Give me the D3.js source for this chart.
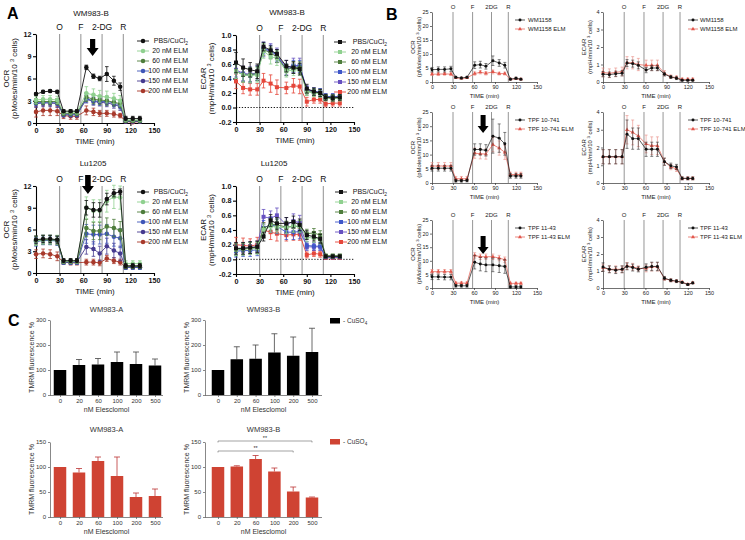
<!DOCTYPE html>
<html><head><meta charset="utf-8">
<script src="https://cdn.jsdelivr.net/npm/d3@7"></script>
<style>body{margin:0;background:#fff}svg{display:block;font-family:"Liberation Sans",Arial,Helvetica,sans-serif}</style>
</head><body><svg id="c" width="745" height="540"></svg>
<script>
// ---------------- DATA ----------------
const xTicks = [0, 30, 60, 90, 120, 150];
const injectionsA = [30, 57, 84, 111];
const injLabelsA = ["O", "F", "2-DG", "R"];
const injectionsB = [30, 58, 85, 109];
const injLabelsB = ["O", "F", "2DG", "R"];
const timesA = [0, 9, 18, 27, 35, 44, 52, 64, 73, 81, 90, 99, 107, 114, 123, 132];
const timesB = [0, 9, 18, 27, 34, 42, 50, 61, 69, 77, 87, 96, 104, 112, 120, 127];
const seriesNamesA = ["PBS/CuCl2", "20 nM ELM", "60 nM ELM", "100 nM ELM", "150 nM ELM", "200 nM ELM"];

// A: WM983-B OCR
const ocrWM_pbs  = [3.9, 4.2, 4.3, 4.2, 1.6, 1.6, 1.6, 7.5, 6.3, 6.0, 6.6, 5.7, 4.9, 0.6, 0.6, 0.6];
const ocrWM_20   = [3.1, 3.2, 3.2, 3.1, 1.5, 1.5, 1.5, 4.0, 3.8, 3.6, 3.5, 3.3, 3.0, 0.4, 0.4, 0.4];
const ocrWM_60   = [2.9, 2.9, 2.9, 2.9, 1.3, 1.3, 1.3, 3.5, 3.2, 3.1, 3.0, 2.8, 2.6, 0.3, 0.3, 0.3];
const ocrWM_100  = [2.7, 2.8, 2.8, 2.8, 1.2, 1.2, 1.2, 3.3, 3.0, 2.9, 2.9, 2.7, 2.4, 0.3, 0.3, 0.3];
const ocrWM_150  = [2.6, 2.7, 2.7, 2.6, 1.1, 1.1, 1.1, 3.2, 2.9, 2.8, 2.7, 2.5, 2.2, 0.2, 0.2, 0.2];
const ocrWM_200  = [1.5, 1.7, 1.7, 1.6, 1.0, 0.9, 0.9, 1.7, 1.5, 1.3, 1.3, 1.2, 1.0, 0.2, 0.1, 0.2];
const ocrWM_pbsE = [0.2, 0.2, 0.2, 0.2, 0.2, 0.2, 0.2, 0.3, 0.3, 0.3, 1.0, 0.6, 0.5, 0.3, 0.3, 0.3];
const ocrWM_20E  = [0.5, 0.5, 0.5, 0.5, 0.3, 0.3, 0.3, 0.9, 0.8, 0.8, 0.8, 0.7, 0.7, 0.2, 0.2, 0.2];
const ocrWM_60E  = [0.4, 0.4, 0.4, 0.4, 0.3, 0.3, 0.3, 0.6, 0.6, 0.6, 0.6, 0.5, 0.5, 0.2, 0.2, 0.2];
const ocrWM_100E = [0.4, 0.4, 0.4, 0.4, 0.3, 0.3, 0.3, 0.5, 0.5, 0.5, 0.5, 0.5, 0.5, 0.2, 0.2, 0.2];
const ocrWM_150E = [0.5, 0.5, 0.5, 0.5, 0.3, 0.3, 0.3, 0.5, 0.5, 0.5, 0.5, 0.5, 0.5, 0.2, 0.2, 0.2];
const ocrWM_200E = [0.7, 0.7, 0.7, 0.6, 0.4, 0.4, 0.4, 0.6, 0.5, 0.4, 0.4, 0.4, 0.3, 0.1, 0.1, 0.1];

// A: WM983-B ECAR
const ecarWM_pbs  = [0.62, 0.55, 0.52, 0.50, 0.84, 0.79, 0.74, 0.57, 0.55, 0.53, 0.26, 0.22, 0.20, 0.14, 0.13, 0.14];
const ecarWM_20   = [0.50, 0.45, 0.44, 0.45, 0.78, 0.70, 0.68, 0.50, 0.52, 0.52, 0.22, 0.20, 0.19, 0.13, 0.12, 0.13];
const ecarWM_60   = [0.50, 0.45, 0.45, 0.47, 0.80, 0.75, 0.70, 0.52, 0.55, 0.55, 0.22, 0.21, 0.20, 0.14, 0.14, 0.14];
const ecarWM_100  = [0.50, 0.46, 0.44, 0.47, 0.82, 0.78, 0.72, 0.52, 0.57, 0.57, 0.24, 0.22, 0.21, 0.15, 0.15, 0.15];
const ecarWM_150  = [0.52, 0.47, 0.46, 0.48, 0.80, 0.78, 0.72, 0.55, 0.58, 0.58, 0.25, 0.22, 0.21, 0.15, 0.15, 0.15];
const ecarWM_200  = [0.36, 0.27, 0.25, 0.25, 0.37, 0.33, 0.28, 0.27, 0.30, 0.29, 0.08, 0.11, 0.11, 0.05, 0.06, 0.06];
const ecarWM_pbsE = [0.14, 0.12, 0.10, 0.10, 0.06, 0.06, 0.06, 0.08, 0.08, 0.08, 0.06, 0.05, 0.05, 0.04, 0.04, 0.04];
const ecarWM_20E  = [0.10, 0.10, 0.10, 0.10, 0.10, 0.10, 0.10, 0.08, 0.08, 0.08, 0.05, 0.05, 0.05, 0.04, 0.04, 0.04];
const ecarWM_60E  = [0.10, 0.10, 0.10, 0.10, 0.08, 0.08, 0.08, 0.08, 0.08, 0.08, 0.05, 0.05, 0.05, 0.04, 0.04, 0.04];
const ecarWM_100E = [0.10, 0.10, 0.10, 0.10, 0.08, 0.08, 0.08, 0.08, 0.08, 0.08, 0.05, 0.05, 0.05, 0.04, 0.04, 0.04];
const ecarWM_150E = [0.10, 0.10, 0.10, 0.10, 0.10, 0.10, 0.10, 0.10, 0.10, 0.10, 0.05, 0.05, 0.05, 0.04, 0.04, 0.04];
const ecarWM_200E = [0.10, 0.08, 0.08, 0.08, 0.10, 0.12, 0.10, 0.08, 0.10, 0.10, 0.06, 0.05, 0.05, 0.04, 0.04, 0.04];

// A: Lu1205 OCR
const ocrLu_pbs  = [4.6, 4.7, 4.7, 4.6, 1.7, 1.7, 1.7, 9.0, 8.7, 8.7, 10.2, 11.0, 11.2, 1.0, 1.0, 1.0];
const ocrLu_20   = [4.4, 4.6, 4.6, 4.6, 1.6, 1.6, 1.6, 9.0, 8.6, 8.6, 9.9, 10.5, 10.4, 1.3, 1.3, 1.3];
const ocrLu_60   = [4.5, 4.6, 4.6, 4.5, 1.6, 1.6, 1.6, 6.2, 5.8, 5.8, 6.4, 6.2, 5.9, 0.9, 0.9, 0.9];
const ocrLu_100  = [4.3, 4.5, 4.5, 4.4, 1.5, 1.5, 1.5, 5.4, 5.3, 5.3, 5.4, 5.0, 4.8, 0.8, 0.8, 0.8];
const ocrLu_150  = [4.4, 4.6, 4.6, 4.5, 1.5, 1.5, 1.5, 3.6, 3.3, 2.7, 3.7, 3.1, 2.7, 0.8, 0.8, 0.8];
const ocrLu_200  = [2.6, 2.7, 2.6, 2.3, 1.5, 1.4, 1.4, 1.5, 1.5, 1.4, 2.0, 1.7, 1.5, 0.8, 0.8, 0.8];
const ocrLu_pbsE = [0.5, 0.5, 0.5, 0.5, 0.3, 0.3, 0.3, 1.0, 1.0, 1.0, 0.8, 0.5, 0.4, 0.3, 0.3, 0.3];
const ocrLu_20E  = [0.6, 0.6, 0.6, 0.6, 0.3, 0.3, 0.3, 1.5, 1.5, 1.5, 1.5, 1.6, 1.6, 0.4, 0.4, 0.4];
const ocrLu_60E  = [0.6, 0.6, 0.6, 0.6, 0.3, 0.3, 0.3, 1.2, 1.2, 1.2, 1.2, 1.2, 1.2, 0.3, 0.3, 0.3];
const ocrLu_100E = [0.6, 0.6, 0.6, 0.6, 0.3, 0.3, 0.3, 1.3, 1.3, 1.3, 1.3, 1.3, 1.3, 0.3, 0.3, 0.3];
const ocrLu_150E = [0.6, 0.6, 0.6, 0.6, 0.3, 0.3, 0.3, 1.0, 1.0, 1.0, 1.1, 1.0, 1.0, 0.3, 0.3, 0.3];
const ocrLu_200E = [0.6, 0.6, 0.6, 0.6, 0.3, 0.3, 0.3, 0.4, 0.4, 0.4, 0.4, 0.4, 0.4, 0.2, 0.2, 0.2];

// A: Lu1205 ECAR
const ecarLu_pbs  = [0.15, 0.15, 0.16, 0.17, 0.31, 0.53, 0.49, 0.49, 0.51, 0.47, 0.33, 0.31, 0.28, 0.04, 0.04, 0.04];
const ecarLu_20   = [0.13, 0.14, 0.15, 0.15, 0.40, 0.45, 0.44, 0.43, 0.45, 0.45, 0.30, 0.29, 0.27, 0.04, 0.04, 0.04];
const ecarLu_60   = [0.13, 0.14, 0.15, 0.16, 0.42, 0.48, 0.47, 0.44, 0.45, 0.45, 0.35, 0.36, 0.33, 0.05, 0.05, 0.05];
const ecarLu_100  = [0.11, 0.12, 0.12, 0.13, 0.43, 0.47, 0.45, 0.37, 0.37, 0.38, 0.19, 0.18, 0.18, 0.03, 0.03, 0.03];
const ecarLu_150  = [0.14, 0.15, 0.16, 0.17, 0.58, 0.56, 0.60, 0.47, 0.52, 0.50, 0.17, 0.17, 0.17, 0.03, 0.03, 0.03];
const ecarLu_200  = [0.20, 0.19, 0.18, 0.20, 0.40, 0.37, 0.35, 0.33, 0.34, 0.34, 0.06, 0.08, 0.07, 0.02, 0.02, 0.02];
const ecarLu_pbsE = [0.08, 0.08, 0.08, 0.08, 0.06, 0.08, 0.08, 0.08, 0.08, 0.08, 0.06, 0.06, 0.06, 0.02, 0.02, 0.02];
const ecarLu_20E  = [0.08, 0.08, 0.08, 0.08, 0.08, 0.08, 0.08, 0.08, 0.08, 0.08, 0.06, 0.06, 0.06, 0.02, 0.02, 0.02];
const ecarLu_60E  = [0.08, 0.08, 0.08, 0.08, 0.08, 0.08, 0.08, 0.08, 0.08, 0.08, 0.06, 0.06, 0.06, 0.02, 0.02, 0.02];
const ecarLu_100E = [0.08, 0.08, 0.08, 0.08, 0.10, 0.10, 0.10, 0.10, 0.10, 0.10, 0.05, 0.05, 0.05, 0.02, 0.02, 0.02];
const ecarLu_150E = [0.08, 0.08, 0.08, 0.08, 0.10, 0.10, 0.10, 0.10, 0.10, 0.10, 0.05, 0.05, 0.05, 0.02, 0.02, 0.02];
const ecarLu_200E = [0.10, 0.10, 0.10, 0.10, 0.10, 0.10, 0.10, 0.08, 0.08, 0.08, 0.04, 0.04, 0.04, 0.02, 0.02, 0.02];

// B
const ocr1158     = [4.4, 4.5, 4.5, 4.7, 1.7, 1.4, 1.7, 6.0, 6.2, 5.6, 7.6, 6.8, 6.0, 1.0, 1.3, 1.0];
const ocr1158E    = [0.8, 0.9, 0.9, 0.9, 0.3, 0.3, 0.3, 1.2, 1.2, 1.0, 1.7, 1.2, 1.0, 0.3, 0.4, 0.3];
const ocr1158elm  = [2.8, 2.8, 2.9, 2.8, 1.5, 1.3, 1.5, 3.0, 3.5, 3.1, 3.6, 3.0, 3.0, 1.0, 1.2, 1.0];
const ocr1158elmE = [0.5, 0.5, 0.5, 0.5, 0.2, 0.2, 0.2, 0.6, 0.6, 0.6, 0.7, 0.5, 0.5, 0.3, 0.3, 0.3];
const ecar1158     = [0.45, 0.42, 0.47, 0.50, 1.08, 1.05, 0.95, 0.68, 0.80, 0.80, 0.45, 0.28, 0.22, 0.10, 0.10, 0.10];
const ecar1158E    = [0.15, 0.15, 0.15, 0.15, 0.20, 0.20, 0.20, 0.15, 0.15, 0.15, 0.10, 0.08, 0.08, 0.05, 0.05, 0.05];
const ecar1158elm  = [0.55, 0.50, 0.55, 0.60, 1.10, 1.10, 1.00, 0.95, 0.95, 0.95, 0.50, 0.30, 0.25, 0.15, 0.15, 0.15];
const ecar1158elmE = [0.25, 0.25, 0.25, 0.25, 0.35, 0.35, 0.35, 0.30, 0.30, 0.30, 0.15, 0.10, 0.10, 0.08, 0.08, 0.08];
const ocr10741     = [5.2, 5.2, 5.2, 5.2, 0.8, 0.8, 0.9, 11.8, 11.8, 11.5, 16.5, 15.8, 13.8, 2.5, 2.5, 2.5];
const ocr10741E    = [1.0, 1.0, 1.0, 1.0, 0.5, 0.5, 0.5, 2.0, 2.0, 2.0, 6.0, 5.0, 4.0, 0.8, 0.8, 0.8];
const ocr10741elm  = [6.0, 6.0, 6.0, 6.0, 1.5, 1.5, 1.5, 10.5, 10.3, 10.2, 13.5, 12.3, 10.8, 3.0, 3.0, 3.0];
const ocr10741elmE = [1.2, 1.2, 1.2, 1.2, 0.8, 0.8, 0.8, 1.8, 1.8, 1.8, 2.5, 2.5, 2.5, 0.8, 0.8, 0.8];
const ecar10741     = [1.48, 1.48, 1.48, 1.48, 2.75, 2.50, 2.50, 1.90, 1.90, 1.90, 1.20, 0.97, 0.90, 0.26, 0.26, 0.26];
const ecar10741E    = [0.40, 0.40, 0.40, 0.40, 0.80, 0.60, 0.60, 0.40, 0.40, 0.40, 0.20, 0.15, 0.15, 0.08, 0.08, 0.08];
const ecar10741elm  = [1.48, 1.48, 1.48, 1.48, 3.00, 2.85, 2.65, 2.20, 2.10, 2.10, 1.20, 0.90, 0.80, 0.26, 0.26, 0.26];
const ecar10741elmE = [0.40, 0.40, 0.40, 0.40, 0.80, 0.70, 0.60, 0.50, 0.50, 0.50, 0.20, 0.15, 0.15, 0.08, 0.08, 0.08];
const ocr1143     = [4.1, 4.1, 4.0, 4.0, 0.8, 0.8, 0.8, 9.5, 8.8, 8.5, 8.5, 8.2, 7.9, 0.4, 0.4, 0.4];
const ocr1143E    = [1.0, 1.0, 1.0, 1.0, 0.5, 0.5, 0.5, 2.5, 2.5, 2.5, 2.5, 2.5, 2.5, 0.5, 0.5, 0.5];
const ocr1143elm  = [6.0, 6.0, 6.0, 6.0, 1.8, 1.8, 1.8, 12.0, 11.5, 11.5, 11.5, 11.0, 10.4, 1.7, 1.7, 1.7];
const ocr1143elmE = [0.8, 0.8, 0.8, 0.8, 0.5, 0.5, 0.5, 1.0, 1.0, 1.0, 1.0, 1.0, 1.0, 0.4, 0.4, 0.4];
const ecar1143     = [1.23, 1.10, 1.05, 1.10, 1.27, 1.20, 1.10, 1.22, 1.27, 1.27, 0.58, 0.45, 0.40, 0.33, 0.20, 0.30];
const ecar1143E    = [0.25, 0.20, 0.20, 0.20, 0.20, 0.20, 0.15, 0.20, 0.25, 0.25, 0.10, 0.08, 0.08, 0.05, 0.05, 0.05];
const ecar1143elm  = [1.20, 1.10, 1.10, 1.10, 1.30, 1.25, 1.15, 1.15, 1.25, 1.25, 0.55, 0.45, 0.40, 0.35, 0.22, 0.30];
const ecar1143elmE = [0.20, 0.20, 0.20, 0.20, 0.20, 0.20, 0.15, 0.20, 0.25, 0.25, 0.10, 0.08, 0.08, 0.05, 0.05, 0.05];

// C
const concs = ["0", "20", "60", "100", "200", "500"];
const tmrmA_noCu  = [100, 120, 122, 132, 124, 118];
const tmrmA_noCuE = [0, 22, 24, 40, 48, 26];
const tmrmB_noCu  = [100, 143, 145, 170, 157, 172];
const tmrmB_noCuE = [0, 50, 55, 75, 75, 95];
const tmrmA_cu    = [100, 89, 112, 82, 40, 42];
const tmrmA_cuE   = [0, 8, 8, 38, 8, 14];
const tmrmB_cu    = [100, 101, 116, 91, 51, 39];
const tmrmB_cuE   = [0, 1.5, 7, 7, 9, 1];

// ---------------- DRAWING ----------------
const svg = d3.select("#c");
const FONT = '"Liberation Sans",Arial,Helvetica,sans-serif';

function rich(t, parts, fs) {
  parts.forEach(p => {
    const s = t.append("tspan").text(p[0]);
    if (p[1] === "sup") { s.attr("font-size", fs * 0.7).attr("dy", -fs * 0.4); }
    else if (p[1] === "sub") { s.attr("font-size", fs * 0.7).attr("dy", fs * 0.25); }
    else if (p[1] === "back") { s.attr("dy", fs * 0.4); }
  });
}

function drawTime(c) {
  const x = d3.scaleLinear().domain([0, 150]).range([c.x0, c.x1]);
  const y = d3.scaleLinear().domain(c.yd).range([c.yb, c.yt]);
  const g = svg.append("g");
  c.inj.forEach((t, i) => {
    g.append("line").attr("x1", x(t)).attr("x2", x(t)).attr("y1", c.yt - c.lineExt).attr("y2", c.yb)
      .attr("stroke", c.lineColor).attr("stroke-width", c.lineW);
    g.append("text").attr("x", x(t)).attr("y", c.yt - c.lblOff).attr("text-anchor", "middle")
      .attr("font-size", c.lblFs).attr("fill", c.txt).text(c.injLabels[i]);
  });
  if (c.yd[0] < 0) {
    g.append("line").attr("x1", x(0)).attr("x2", x(150)).attr("y1", y(0)).attr("y2", y(0))
      .attr("stroke", "#000").attr("stroke-width", 0.9).attr("stroke-dasharray", "1.3,1.6");
  }
  const xa = g.append("g").attr("transform", `translate(0,${c.yb})`)
    .call(d3.axisBottom(x).tickValues(xTicks).tickSize(c.tick).tickPadding(1.5).tickSizeOuter(0));
  const ya = g.append("g").attr("transform", `translate(${c.x0},0)`)
    .call(d3.axisLeft(y).tickValues(c.yticks).tickFormat(c.fmt).tickSize(c.tick).tickPadding(1.5).tickSizeOuter(0));
  [xa, ya].forEach(a => {
    a.selectAll("path,line").attr("stroke", c.axisColor).attr("stroke-width", c.axisW);
    a.selectAll("text").attr("font-size", c.tickFs).attr("font-weight", c.tickWeight)
      .attr("fill", c.txt).attr("font-family", FONT);
  });
  g.append("text").attr("x", (c.x0 + c.x1) / 2).attr("y", c.yb + c.xTitleOff).attr("text-anchor", "middle")
    .attr("font-size", c.titleFs).attr("fill", c.txt).text("TIME (min)");
  const cy = (c.yb + c.yt) / 2;
  g.append("text").attr("transform", `translate(${c.x0 - c.yT1},${cy}) rotate(-90)`).attr("text-anchor", "middle")
    .attr("font-size", c.titleFs).attr("fill", c.txt).text(c.ytitle);
  const t2 = g.append("text").attr("transform", `translate(${c.x0 - c.yT2},${cy}) rotate(-90)`).attr("text-anchor", "middle")
    .attr("font-size", c.titleFs).attr("fill", c.txt);
  rich(t2, [[c.unit + "/min/10 ", ""], ["3", "sup"], [" cells)", "back"]], c.titleFs);
  if (c.title) g.append("text").attr("x", c.titleX).attr("y", c.titleY).attr("text-anchor", "middle")
    .attr("font-size", 8).attr("fill", "#111").text(c.title);
  const order = d3.range(c.series.length).reverse();
  order.forEach(i => {
    const s = c.series[i];
    const col = c.colors[i];
    const ecol = c.ecolors ? c.ecolors[i] : col;
    const pts = s.v.map((v, j) => ({ t: c.times[j], v: v, e: s.e[j] }));
    g.append("path").datum(pts).attr("d", d3.line().x(d => x(d.t)).y(d => y(d.v)))
      .attr("fill", "none").attr("stroke", col).attr("stroke-width", c.lw);
    const eb = g.append("g").attr("stroke", ecol).attr("stroke-width", c.ew);
    pts.forEach(d => {
      eb.append("line").attr("x1", x(d.t)).attr("x2", x(d.t)).attr("y1", y(d.v - d.e)).attr("y2", y(d.v + d.e));
      eb.append("line").attr("x1", x(d.t) - c.cap).attr("x2", x(d.t) + c.cap).attr("y1", y(d.v + d.e)).attr("y2", y(d.v + d.e));
      eb.append("line").attr("x1", x(d.t) - c.cap).attr("x2", x(d.t) + c.cap).attr("y1", y(d.v - d.e)).attr("y2", y(d.v - d.e));
    });
    const sym = d3.symbol().type(c.symbols[i]).size(c.symSize);
    g.append("g").selectAll("path").data(pts).join("path")
      .attr("transform", d => `translate(${x(d.t)},${y(d.v)})`).attr("d", sym).attr("fill", col);
  });
  c.series.forEach((s, i) => {
    const ly = c.yt + c.legTop + i * c.legStep;
    g.append("line").attr("x1", c.legX - c.legLine).attr("x2", c.legX + c.legLine).attr("y1", ly).attr("y2", ly)
      .attr("stroke", c.colors[i]).attr("stroke-width", c.lw);
    g.append("path").attr("transform", `translate(${c.legX},${ly})`)
      .attr("d", d3.symbol().type(c.symbols[i]).size(c.symSize)).attr("fill", c.colors[i]);
    const t = g.append("text").attr("x", c.legTextX).attr("y", ly + c.legFs * 0.35)
      .attr("text-anchor", c.legAnchor).attr("font-size", c.legFs).attr("fill", c.txt);
    if (s.name === "PBS/CuCl2") rich(t, [["PBS/CuCl", ""], ["2", "sub"]], c.legFs);
    else t.text(s.name);
  });
  if (c.arrow) {
    const ax = x(c.arrow.t), a0 = c.arrow.y0, a1 = c.arrow.y1, hw = c.arrow.hw, sw = c.arrow.sw, hl = c.arrow.hl;
    g.append("path").attr("d", `M${ax - sw},${a0} L${ax + sw},${a0} L${ax + sw},${a1 - hl} L${ax + hw},${a1 - hl} L${ax},${a1} L${ax - hw},${a1 - hl} L${ax - sw},${a1 - hl} Z`)
      .attr("fill", "#000");
  }
}

const colOCR = ["#111111", "#8fd08f", "#4e7d3c", "#3f56b8", "#463a8f", "#a8392b"];
const colECAR = ["#111111", "#8fd08f", "#4e7d3c", "#3f56c8", "#6650c0", "#e5463a"];
const styleA = {
  lineColor: "#9a9a9a", lineW: 1.1, lineExt: 0, lblOff: 4, lblFs: 8.5, txt: "#111",
  tick: 3, axisColor: "#000", axisW: 1.1, tickFs: 7.2, tickWeight: "bold", titleFs: 8, xTitleOff: 20.5,
  yT1: 27, yT2: 19, lw: 0.9, ew: 0.8, cap: 1.8, symSize: 16, legTop: 7, legStep: 10, legLine: 6,
  legFs: 7, legAnchor: "end", times: timesA, inj: injectionsA, injLabels: injLabelsA
};
function mk(names, vals, errs) { return names.map((n, i) => ({ name: n, v: vals[i], e: errs[i] })); }

drawTime(Object.assign({}, styleA, {
  x0: 36, x1: 154, yb: 123, yt: 34, yd: [0, 12], yticks: [0, 3, 6, 9, 12], fmt: d3.format("d"),
  ytitle: "OCR", unit: "(pMoles", title: "WM983-B", titleX: 91, titleY: 16,
  colors: colOCR, symbols: Array(6).fill(d3.symbolCircle), legX: 143, legTextX: 188,
  series: mk(seriesNamesA, [ocrWM_pbs, ocrWM_20, ocrWM_60, ocrWM_100, ocrWM_150, ocrWM_200],
    [ocrWM_pbsE, ocrWM_20E, ocrWM_60E, ocrWM_100E, ocrWM_150E, ocrWM_200E]),
  arrow: { t: 72, y0: 39, y1: 56, hw: 6, sw: 2.6, hl: 8 }
}));
drawTime(Object.assign({}, styleA, {
  x0: 236, x1: 354, yb: 122, yt: 35, yd: [-0.2, 1.0], yticks: [-0.2, 0, 0.2, 0.4, 0.6, 0.8, 1.0], fmt: d => d.toFixed(1),
  ytitle: "ECAR", unit: "(mpH", title: "WM983-B", titleX: 287, titleY: 15, yT1: 30, yT2: 22,
  colors: colECAR, symbols: Array(6).fill(d3.symbolSquare), legX: 340, legTextX: 387,
  series: mk(seriesNamesA, [ecarWM_pbs, ecarWM_20, ecarWM_60, ecarWM_100, ecarWM_150, ecarWM_200],
    [ecarWM_pbsE, ecarWM_20E, ecarWM_60E, ecarWM_100E, ecarWM_150E, ecarWM_200E])
}));
drawTime(Object.assign({}, styleA, {
  x0: 36, x1: 154, yb: 273, yt: 186, yd: [0, 12], yticks: [0, 3, 6, 9, 12], fmt: d3.format("d"),
  ytitle: "OCR", unit: "(pMoles", title: "Lu1205", titleX: 93, titleY: 166,
  colors: colOCR, symbols: Array(6).fill(d3.symbolCircle), legX: 143, legTextX: 188, legTop: 6,
  series: mk(seriesNamesA, [ocrLu_pbs, ocrLu_20, ocrLu_60, ocrLu_100, ocrLu_150, ocrLu_200],
    [ocrLu_pbsE, ocrLu_20E, ocrLu_60E, ocrLu_100E, ocrLu_150E, ocrLu_200E]),
  arrow: { t: 66, y0: 175, y1: 194, hw: 6, sw: 2.8, hl: 8 }
}));
drawTime(Object.assign({}, styleA, {
  x0: 236, x1: 354, yb: 274, yt: 186, yd: [-0.2, 1.0], yticks: [-0.2, 0, 0.2, 0.4, 0.6, 0.8, 1.0], fmt: d => d.toFixed(1),
  ytitle: "ECAR", unit: "(mpH", title: "Lu1205", titleX: 274, titleY: 166, yT1: 30, yT2: 22,
  colors: colECAR, symbols: Array(6).fill(d3.symbolSquare), legX: 341, legTextX: 387, legTop: 6,
  series: mk(seriesNamesA, [ecarLu_pbs, ecarLu_20, ecarLu_60, ecarLu_100, ecarLu_150, ecarLu_200],
    [ecarLu_pbsE, ecarLu_20E, ecarLu_60E, ecarLu_100E, ecarLu_150E, ecarLu_200E])
}));

const styleB = {
  lineColor: "#8a8a8a", lineW: 0.9, lineExt: 0, lblOff: 3, lblFs: 6, txt: "#222",
  tick: 2, axisColor: "#333", axisW: 0.7, tickFs: 5.5, tickWeight: "normal", titleFs: 6, xTitleOff: 15.5,
  yT1: 17, yT2: 11, lw: 0.7, ew: 0.6, cap: 1.5, symSize: 7, legTop: 8, legStep: 9, legLine: 5,
  legFs: 6, legAnchor: "start", times: timesB, inj: injectionsB, injLabels: injLabelsB,
  colors: ["#111111", "#e2564b"], ecolors: ["#333333", "#e88a82"],
  symbols: [d3.symbolCircle, d3.symbolTriangle]
};
const bRows = [[82, 12], [183, 112], [288, 220]];
const bNames = [["WM1158", "WM1158 ELM"], ["TPF 10-741", "TPF 10-741 ELM"], ["TPF 11-43", "TPF 11-43 ELM"]];
const bOCR = [[ocr1158, ocr1158elm, ocr1158E, ocr1158elmE], [ocr10741, ocr10741elm, ocr10741E, ocr10741elmE], [ocr1143, ocr1143elm, ocr1143E, ocr1143elmE]];
const bECAR = [[ecar1158, ecar1158elm, ecar1158E, ecar1158elmE], [ecar10741, ecar10741elm, ecar10741E, ecar10741elmE], [ecar1143, ecar1143elm, ecar1143E, ecar1143elmE]];
const bArrows = [null, { y0: 115, y1: 133 }, { y0: 236, y1: 254 }];
bRows.forEach((r, k) => {
  drawTime(Object.assign({}, styleB, {
    x0: 432, x1: 537, yb: r[0], yt: r[1], yd: [0, 25], yticks: [0, 5, 10, 15, 20, 25], fmt: d3.format("d"),
    ytitle: "OCR", unit: "(pMoles", legX: 520, legTextX: 528,
    series: mk(bNames[k], [bOCR[k][0], bOCR[k][1]], [bOCR[k][2], bOCR[k][3]]),
    arrow: bArrows[k] ? { t: 73, y0: bArrows[k].y0, y1: bArrows[k].y1, hw: 5.5, sw: 2.5, hl: 7 } : null
  }));
  drawTime(Object.assign({}, styleB, {
    x0: 603, x1: 709, yb: r[0], yt: r[1], yd: [0, 4], yticks: [0, 1, 2, 3, 4], fmt: d3.format("d"),
    ytitle: "ECAR", unit: "(mpH", legX: 693, legTextX: 700,
    series: mk(bNames[k], [bECAR[k][0], bECAR[k][1]], [bECAR[k][2], bECAR[k][3]])
  }));
});

function drawBars(c) {
  const g = svg.append("g");
  const x = d3.scalePoint().domain(concs).range([c.c0, c.c1]);
  const y = d3.scaleLinear().domain([0, c.ymax]).range([c.yb, c.yt]);
  const xa = g.append("g").attr("transform", `translate(0,${c.yb})`).call(d3.axisBottom(x).tickSize(2).tickPadding(2));
  xa.select(".domain").attr("d", `M${c.x0},0.5H${c.xe}`);
  const ya = g.append("g").attr("transform", `translate(${c.x0},0)`)
    .call(d3.axisLeft(y).tickValues(c.yticks).tickSize(2).tickPadding(2).tickSizeOuter(0));
  [xa, ya].forEach(a => {
    a.selectAll("path,line").attr("stroke", "#555").attr("stroke-width", 0.7);
    a.selectAll("text").attr("font-size", 6).attr("fill", "#333").attr("font-family", FONT);
  });
  c.vals.forEach((v, i) => {
    const cx = x(concs[i]);
    if (c.errs[i] > 0) {
      const ye = y(v + c.errs[i]);
      g.append("line").attr("x1", cx).attr("x2", cx).attr("y1", y(v)).attr("y2", ye).attr("stroke", c.ecol).attr("stroke-width", 0.8);
      g.append("line").attr("x1", cx - 3).attr("x2", cx + 3).attr("y1", ye).attr("y2", ye).attr("stroke", c.ecol).attr("stroke-width", 0.8);
    }
    g.append("rect").attr("x", cx - c.bw / 2).attr("width", c.bw).attr("y", y(v)).attr("height", c.yb - y(v)).attr("fill", c.col);
  });
  g.append("text").attr("x", (c.x0 + c.xe) / 2).attr("y", c.titleY).attr("text-anchor", "middle")
    .attr("font-size", 7.5).attr("fill", "#333").text(c.title);
  g.append("text").attr("x", (c.x0 + c.xe) / 2).attr("y", c.yb + 17).attr("text-anchor", "middle")
    .attr("font-size", 7).attr("fill", "#333").text("nM Elesclomol");
  g.append("text").attr("transform", `translate(${c.x0 - 16},${(c.yb + c.yt) / 2}) rotate(-90)`).attr("text-anchor", "middle")
    .attr("font-size", 7).attr("fill", "#333").text("TMRM fluorescence %");
  if (c.sig) {
    c.sig.forEach(s => {
      const xa0 = x(concs[0]), xa1 = x(concs[s.to]);
      g.append("path").attr("d", `M${xa0},${s.y + 1.5}V${s.y}H${xa1}V${s.y + 1.5}`).attr("fill", "none").attr("stroke", "#666").attr("stroke-width", 0.6);
      g.append("text").attr("x", (xa0 + xa1) / 2).attr("y", s.y - 1).attr("text-anchor", "middle").attr("font-size", 5.5).attr("fill", "#333").text("**");
    });
  }
  if (c.legend) {
    g.append("rect").attr("x", 330).attr("y", c.legend - 3).attr("width", 10).attr("height", 5.5).attr("fill", c.col);
    const t = g.append("text").attr("x", 343).attr("y", c.legend + 2).attr("font-size", 6.5).attr("fill", "#333");
    rich(t, [["- CuSO", ""], ["4", "sub"]], 6.5);
  }
}
drawBars({ x0: 50, xe: 163, c0: 60, c1: 155, yb: 395, yt: 320, ymax: 300, yticks: [0, 100, 200, 300], bw: 12.5,
  vals: tmrmA_noCu, errs: tmrmA_noCuE, col: "#000", ecol: "#444", title: "WM983-A", titleY: 312 });
drawBars({ x0: 205, xe: 322, c0: 218, c1: 312, yb: 395, yt: 320, ymax: 300, yticks: [0, 100, 200, 300], bw: 12.5,
  vals: tmrmB_noCu, errs: tmrmB_noCuE, col: "#000", ecol: "#444", title: "WM983-B", titleY: 312, legend: 321 });
drawBars({ x0: 50, xe: 163, c0: 60, c1: 155, yb: 517, yt: 442, ymax: 150, yticks: [0, 50, 100, 150], bw: 12.5,
  vals: tmrmA_cu, errs: tmrmA_cuE, col: "#cf4333", ecol: "#b33", title: "WM983-A", titleY: 432 });
drawBars({ x0: 205, xe: 322, c0: 218, c1: 312, yb: 517, yt: 442, ymax: 150, yticks: [0, 50, 100, 150], bw: 12.5,
  vals: tmrmB_cu, errs: tmrmB_cuE, col: "#cf4333", ecol: "#b33", title: "WM983-B", titleY: 432, legend: 442,
  sig: [{ to: 5, y: 441 }, { to: 4, y: 451 }] });

[["A", 7, 19], ["B", 386, 20], ["C", 8, 326]].forEach(p => {
  svg.append("text").attr("x", p[1]).attr("y", p[2]).attr("font-size", 16).attr("font-weight", "bold").attr("fill", "#000").text(p[0]);
});
</script>
</body></html>
